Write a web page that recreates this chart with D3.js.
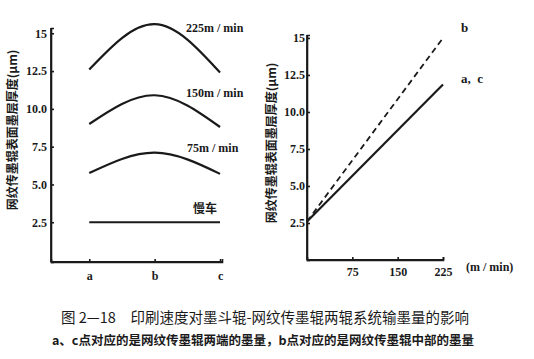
<!DOCTYPE html>
<html><head><meta charset="utf-8">
<script src="https://cdn.jsdelivr.net/npm/d3@7"></script>
<style>body{margin:0;background:#fff}</style>
</head><body>
<svg id="c" width="534" height="359"></svg>
<script>
// ---- data ----
const positions = ["a", "b", "c"];
const speedLabels = ["225m / min", "150m / min", "75m / min", "慢车"];
const thick225 = [12.6, 15.6, 12.4];
const thick150 = [9.0, 10.9, 8.8];
const thick75 = [5.75, 7.1, 5.7];
const thickSlow = [2.5, 2.5, 2.5];
const yTicks = [2.5, 5.0, 7.5, 10.0, 12.5, 15];
const speeds = [0, 225];
const lineB = [2.6, 15.0];
const lineAC = [2.6, 11.85];
const speedTicks = [75, 150, 225];
const yTitle = "网纹传墨辊表面墨层厚度(μm)";
const caption1 = "图 2—18　印刷速度对墨斗辊-网纹传墨辊两辊系统输墨量的影响";
const caption2 = "a、c点对应的是网纹传墨辊两端的墨量，b点对应的是网纹传墨辊中部的墨量";

const svg = d3.select("#c");
const serif = "Liberation Serif";
const cjk = "Noto Sans CJK SC";
const ink = "#1a1a1a";

function styleAxis(g) {
  g.selectAll("path,line").style("stroke", ink).style("stroke-width", "1.6px");
  g.selectAll("text").style("font-family", serif).style("font-weight", "bold")
    .style("font-size", "12px").style("fill", ink);
}
// explicit axis line drawn from the scale's range
function axisLine(x1, y1, x2, y2) {
  svg.append("line").attr("x1", x1).attr("y1", y1).attr("x2", x2).attr("y2", y2)
    .style("stroke", ink).style("stroke-width", "1.8px");
}
const fmt = d => d === 15 ? "15" : d3.format(".1f")(d);

// ---- left chart ----
const xL = d3.scaleLinear().domain([-0.585, 2.03]).range([51, 222]);
const yL = d3.scaleLinear().domain([-0.13, 15.35]).range([262, 28]);
const gly = svg.append("g").attr("transform", "translate(51,0)")
  .call(d3.axisLeft(yL).tickValues(yTicks).tickSize(-3).tickPadding(4).tickFormat(fmt));
styleAxis(gly);
const glx = svg.append("g").attr("transform", "translate(0,262)")
  .call(d3.axisBottom(xL).tickValues([0, 1, 2]).tickSize(-3).tickPadding(9).tickFormat(i => positions[i]));
styleAxis(glx);
axisLine(xL.range()[0], yL.range()[0], xL.range()[0], yL.range()[1]);
axisLine(xL.range()[0], yL.range()[0], xL.range()[1], yL.range()[0]);
const lineL = d3.line().x((d, i) => xL(i)).y(d => yL(d)).curve(d3.curveNatural);
[thick225, thick150, thick75, thickSlow].forEach(arr => {
  svg.append("path").attr("d", lineL(arr)).style("fill", "none")
    .style("stroke", ink).style("stroke-width", "2.2px");
});
const lblPos = [[186, 32, serif], [186, 97, serif], [187, 152, serif], [193, 213, cjk]];
speedLabels.forEach((t, i) => {
  svg.append("text").attr("x", lblPos[i][0]).attr("y", lblPos[i][1]).text(t)
    .style("font-family", lblPos[i][2]).style("font-size", "12px")
    .style("font-weight", "bold").style("fill", ink);
});
svg.append("text").attr("transform", "translate(17,130) rotate(-90)")
  .attr("text-anchor", "middle").style("font-family", cjk).style("font-weight", "bold")
  .style("font-size", "12px").style("fill", ink).text(yTitle);

// ---- right chart ----
const xR = d3.scaleLinear().domain([0, 225]).range([307, 443]);
const yR = d3.scaleLinear().domain([0, 15.2]).range([260, 35]);
const gry = svg.append("g").attr("transform", "translate(307,0)")
  .call(d3.axisLeft(yR).tickValues(yTicks).tickSize(-3).tickPadding(2).tickFormat(fmt));
styleAxis(gry);
const grx = svg.append("g").attr("transform", "translate(0,260)")
  .call(d3.axisBottom(xR).tickValues(speedTicks).tickSize(-3).tickPadding(7));
styleAxis(grx);
axisLine(xR.range()[0], yR.range()[0], xR.range()[0], yR.range()[1]);
axisLine(xR.range()[0], yR.range()[0], xR.range()[1], yR.range()[0]);
const lineR = d3.line().x((d, i) => xR(speeds[i])).y(d => yR(d));
svg.append("path").attr("d", lineR(lineB)).style("fill", "none")
  .style("stroke", ink).style("stroke-width", "1.8px").style("stroke-dasharray", "6,4");
svg.append("path").attr("d", lineR(lineAC)).style("fill", "none")
  .style("stroke", ink).style("stroke-width", "2.2px");
svg.append("text").attr("x", 461).attr("y", 32).text("b")
  .style("font-family", serif).style("font-weight", "bold").style("font-size", "13px").style("fill", ink);
svg.append("text").attr("x", 461).attr("y", 83).text("a,  c")
  .style("white-space", "pre")
  .style("font-family", serif).style("font-weight", "bold").style("font-size", "13px").style("fill", ink);
svg.append("text").attr("x", 466).attr("y", 271).text("(m / min)")
  .style("font-family", serif).style("font-weight", "bold").style("font-size", "12px").style("fill", ink);
svg.append("text").attr("transform", "translate(276,143) rotate(-90)")
  .attr("text-anchor", "middle").style("font-family", cjk).style("font-weight", "bold")
  .style("font-size", "12px").style("fill", ink).text(yTitle);

// ---- captions ----
svg.append("text").attr("x", 265).attr("y", 323).attr("text-anchor", "middle")
  .style("font-family", cjk).style("font-size", "14.5px").style("fill", ink)
  .style("white-space", "pre").text(caption1);
svg.append("text").attr("x", 263).attr("y", 345).attr("text-anchor", "middle")
  .style("font-family", cjk).style("font-weight", "bold").style("font-size", "12.5px").style("fill", ink)
  .text(caption2);
</script>
</body></html>
